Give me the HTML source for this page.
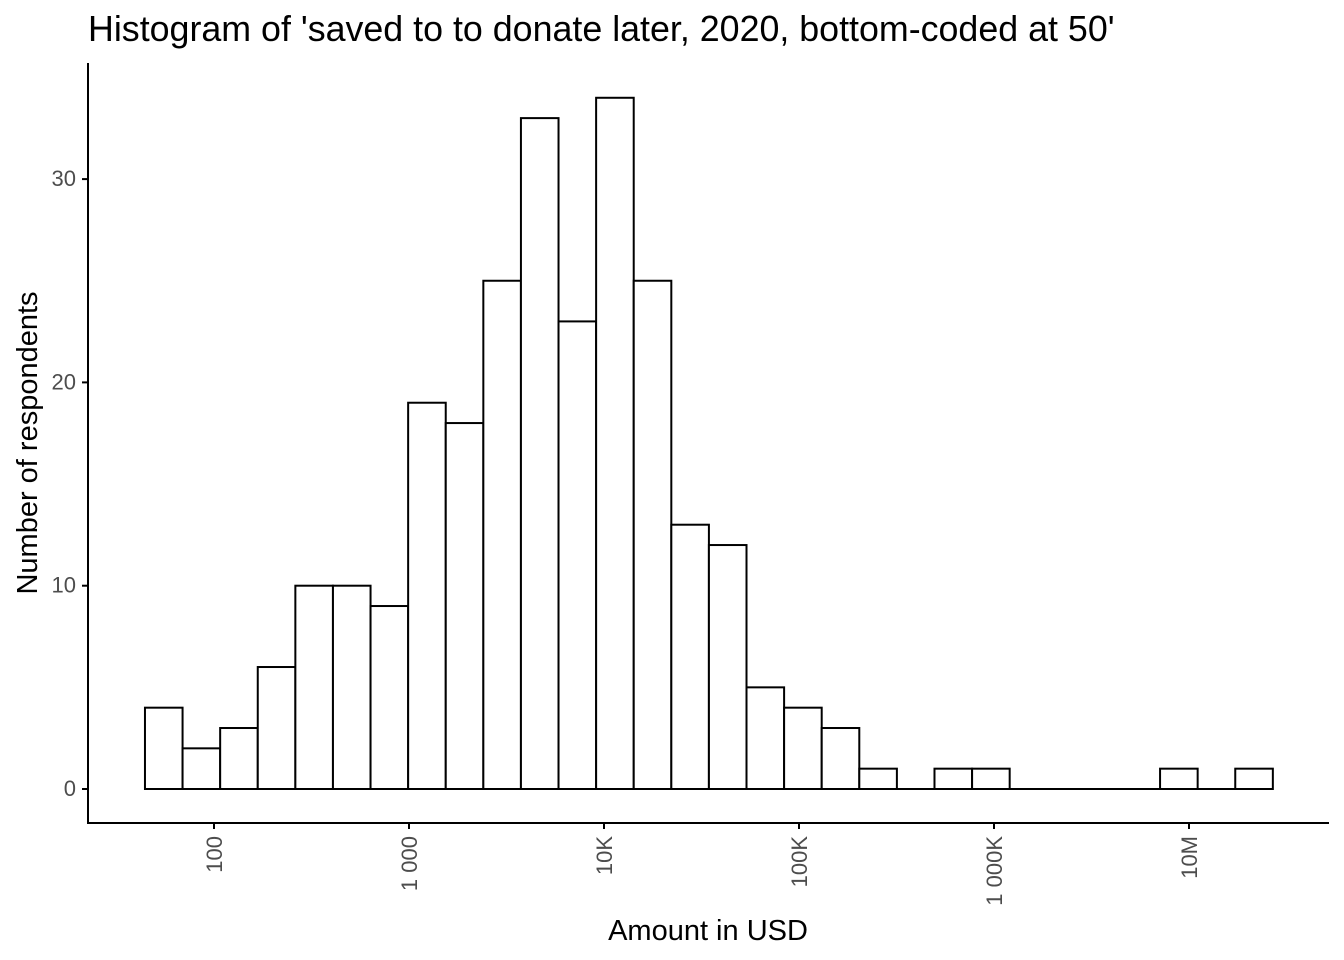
<!DOCTYPE html>
<html><head><meta charset="utf-8"><style>
html,body{margin:0;padding:0;background:#fff;}
svg{display:block;font-family:"Liberation Sans",Arial,sans-serif;}
</style></head><body>
<svg id="chart" width="1344" height="960">
<text x="88" y="41" font-size="35.8" fill="#000">Histogram of 'saved to to donate later, 2020, bottom-coded at 50'</text>
<text x="708" y="940" font-size="29" text-anchor="middle" fill="#000">Amount in USD</text>
<text transform="translate(37,443) rotate(-90)" font-size="29" text-anchor="middle" fill="#000">Number of respondents</text>
<g id="bars"></g>
<g id="axes"></g>
</svg>
<script>
const counts = [4,2,3,6,10,10,9,19,18,25,33,23,34,25,13,12,5,4,3,1,0,1,1,0,0,0,0,1,0,1];
const binStartLog = 1.646;
const binWidthLog = 0.1928;
const yTicks = [0,10,20,30];
const yTickLabels = ["0","10","20","30"];
const xTicks = [2,3,4,5,6,7];
const xTickLabels = ["100","1 000","10K","100K","1 000K","10M"];

const NS="http://www.w3.org/2000/svg";
const xScale = l => 214 + (l-2)*195;
const yScale = v => 789 - v*20.33;
const bars=document.getElementById('bars'), axes=document.getElementById('axes');
function mk(tag,attrs,parent){const e=document.createElementNS(NS,tag);for(const k in attrs)e.setAttribute(k,attrs[k]);parent.appendChild(e);return e;}

const bl=mk('line',{x1:xScale(binStartLog),x2:xScale(binStartLog+counts.length*binWidthLog),y1:yScale(0),y2:yScale(0),stroke:'#000','stroke-width':2},bars);


counts.forEach((c,i)=>{
  if(c<=0) return;
  const x0=xScale(binStartLog+i*binWidthLog), x1=xScale(binStartLog+(i+1)*binWidthLog);
  const r=mk('rect',{x:x0,y:yScale(c),width:x1-x0,height:yScale(0)-yScale(c),fill:'#fff',stroke:'#000','stroke-width':2},bars);
  
  
});
const ya=mk('line',{x1:88,x2:88,y1:63,y2:824,stroke:'#000','stroke-width':2},axes);


const xa=mk('line',{x1:87,x2:1329,y1:823,y2:823,stroke:'#000','stroke-width':2},axes);


yTicks.forEach((v,i)=>{
  const y=yScale(v);
  const t=mk('line',{x1:82,x2:88,y1:y,y2:y,stroke:'#000','stroke-width':2},axes);
  
  
  const tx=mk('text',{x:76,y:y+7,'font-size':22,'text-anchor':'end',fill:'#4d4d4d'},axes);
  tx.textContent=yTickLabels[i];
  
  
});
xTicks.forEach((l,i)=>{
  const x=xScale(l);
  const t=mk('line',{x1:x,x2:x,y1:823,y2:829,stroke:'#000','stroke-width':2},axes);
  
  
  const tx=mk('text',{transform:`translate(${x+8},836) rotate(-90)`,'font-size':22,'text-anchor':'end',fill:'#4d4d4d'},axes);
  tx.textContent=xTickLabels[i];
  
  
});
</script>
</body></html>
